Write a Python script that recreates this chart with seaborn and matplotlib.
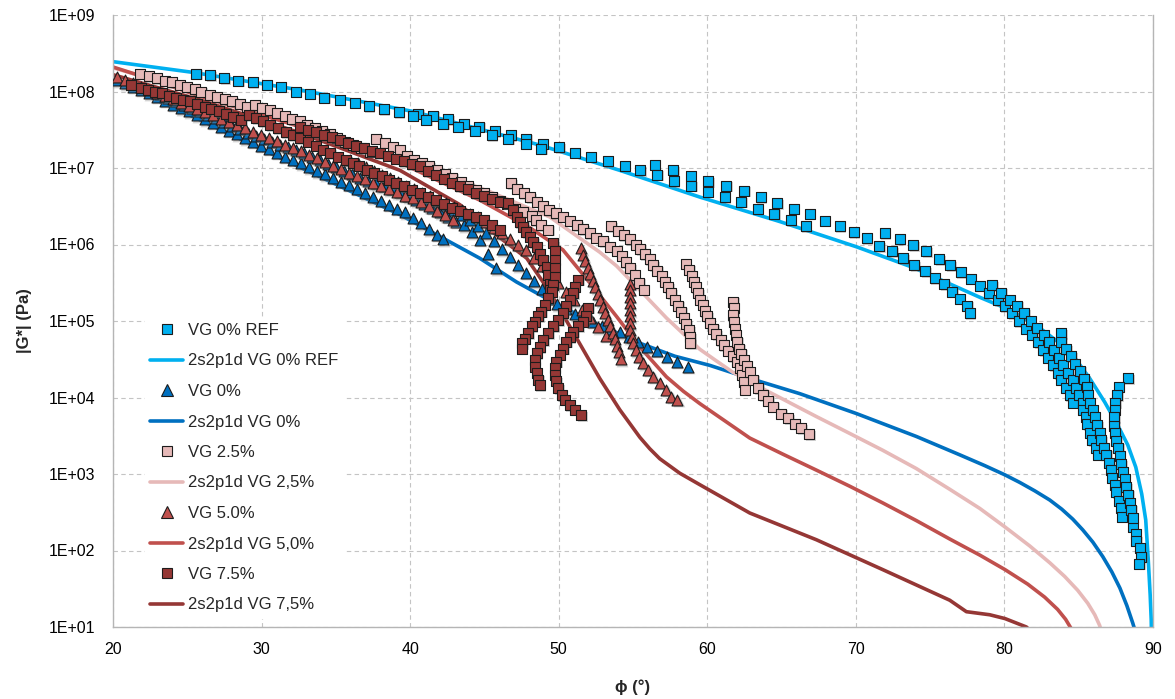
import numpy as np
import matplotlib
matplotlib.use("Agg")
import matplotlib.pyplot as plt
import matplotlib.transforms as mtransforms
import seaborn as sns
from matplotlib.lines import Line2D
from matplotlib.ticker import FixedLocator, FuncFormatter, NullLocator

# ---------------------------------------------------------------------------
# Black-space data: phase angle (deg) and log10 |G*| (Pa)
# ---------------------------------------------------------------------------
ref_phi = [25.60, 26.54, 27.48, 28.43, 29.40, 30.34, 31.28, 32.29, 33.25, 34.21, 35.25, 36.26, 37.22, 38.23,
           39.22, 40.54, 41.55, 42.56, 43.61, 44.64, 45.70, 46.78, 47.83, 48.91, 50.03, 51.08, 52.14, 53.30,
           54.43, 55.50,
           40.18, 41.10, 42.22, 43.23, 44.35, 45.48, 46.59, 47.79, 48.84,
           56.45, 57.70, 58.89, 60.08, 61.27, 62.48, 63.60, 64.72, 65.82, 66.90, 67.91, 68.92, 69.86, 70.75,
           71.56, 72.44, 73.18, 73.92, 74.66, 75.31, 75.94, 76.50, 76.99, 77.51, 77.67,
           56.62, 57.75, 58.91, 60.03, 61.18, 62.27, 63.40, 64.50, 65.62, 66.63,
           71.94, 72.95, 73.85, 74.75, 75.60, 76.37, 77.06, 77.73, 78.34, 78.96, 79.57, 80.02, 80.54, 80.98,
           81.48, 81.88, 82.26, 82.60, 82.93, 83.27, 83.61, 83.84, 84.13, 84.39, 84.62,
           79.19, 79.80, 80.36, 80.85, 81.32, 81.77, 82.19, 82.64, 82.98, 83.34, 83.65, 83.94, 84.28, 84.62,
           84.85, 85.02, 85.29, 85.29, 85.47, 85.59, 85.74, 85.92, 86.14, 86.30,
           83.84, 83.84, 84.17, 84.51, 84.73, 85.11, 85.36, 85.56, 85.62, 85.74, 85.96, 86.08, 86.26, 86.41,
           86.53, 86.70, 86.86, 87.04, 87.20, 87.27, 87.42, 87.54, 87.71, 87.87, 87.94, 88.65, 88.84, 88.88,
           89.11, 89.22, 89.06,
           88.32, 87.69, 87.58, 87.47, 87.42, 87.38, 87.38, 87.42, 87.54, 87.65, 87.76, 87.87, 87.98, 88.10,
           88.21, 88.32, 88.43, 88.55, 88.65]
ref_lg = [8.23, 8.21, 8.17, 8.14, 8.12, 8.09, 8.06, 8.00, 7.97, 7.92, 7.89, 7.85, 7.81, 7.77,
          7.73, 7.71, 7.68, 7.64, 7.58, 7.54, 7.48, 7.43, 7.38, 7.32, 7.27, 7.20, 7.15, 7.09,
          7.03, 6.97,
          7.68, 7.63, 7.58, 7.54, 7.49, 7.43, 7.38, 7.32, 7.25,
          7.04, 6.97, 6.90, 6.83, 6.77, 6.70, 6.62, 6.54, 6.47, 6.40, 6.31, 6.24, 6.16, 6.08,
          5.98, 5.91, 5.82, 5.73, 5.65, 5.56, 5.48, 5.38, 5.29, 5.20, 5.10,
          6.91, 6.83, 6.77, 6.69, 6.62, 6.56, 6.47, 6.40, 6.32, 6.24,
          6.15, 6.07, 5.99, 5.91, 5.81, 5.73, 5.64, 5.55, 5.46, 5.36, 5.27, 5.19, 5.10, 5.00,
          4.90, 4.82, 4.72, 4.62, 4.52, 4.42, 4.32, 4.23, 4.13, 4.03, 3.93,
          5.47, 5.37, 5.28, 5.20, 5.10, 5.00, 4.91, 4.82, 4.72, 4.62, 4.52, 4.42, 4.32, 4.23,
          4.13, 4.03, 3.93, 3.84, 3.75, 3.65, 3.54, 3.44, 3.34, 3.25,
          4.84, 4.73, 4.63, 4.54, 4.44, 4.35, 4.24, 4.14, 4.03, 3.93, 3.84, 3.75, 3.64, 3.54,
          3.44, 3.34, 3.25, 3.15, 3.05, 2.95, 2.86, 2.76, 2.65, 2.55, 2.44, 2.31, 2.22, 2.13,
          2.03, 1.92, 1.83,
          4.25, 4.14, 4.03, 3.93, 3.84, 3.74, 3.63, 3.53, 3.43, 3.34, 3.23, 3.13, 3.03, 2.93,
          2.83, 2.73, 2.62, 2.53, 2.42]

vg0_phi = [20.26, 20.80, 21.34, 21.88, 22.42, 22.95, 23.49, 24.03, 24.57, 25.11, 25.65, 26.18, 26.72, 27.26,
           27.80, 28.34, 28.88, 29.41, 29.95, 30.49, 31.03, 31.57, 32.11, 32.64, 33.18, 33.72, 34.26, 34.80,
           35.34, 35.87, 36.41, 36.95, 37.49, 38.03, 38.57, 39.10, 39.64, 40.18, 40.72, 41.26, 41.80, 42.20,
           23.16, 23.69, 24.23, 24.77, 25.31, 25.85, 26.38, 26.92, 27.46, 28.00, 28.54, 29.08, 29.62, 30.15,
           30.69, 31.23, 31.77, 32.31, 32.85, 33.39, 33.92, 34.46, 35.00, 35.54, 36.08, 36.62, 37.15, 37.69,
           38.23, 38.77, 39.31, 39.85, 40.38, 40.92, 41.46, 42.00, 42.54, 43.08, 43.61, 44.15, 44.69, 45.23,
           45.77,
           41.33, 41.87, 42.41, 42.95, 43.49, 44.02, 44.56, 45.10, 45.64, 46.18, 46.71, 47.25, 47.79, 48.33,
           48.87,
           49.27, 49.88, 50.48, 51.09, 51.69, 52.30, 52.90, 53.51, 54.11, 54.72, 55.33, 55.93, 56.61, 57.28,
           57.95, 58.70]
vg0_lg = [8.15, 8.11, 8.06, 8.02, 7.98, 7.93, 7.88, 7.83, 7.78, 7.74, 7.69, 7.64, 7.59, 7.54,
          7.49, 7.44, 7.39, 7.34, 7.29, 7.25, 7.20, 7.15, 7.11, 7.06, 7.01, 6.96, 6.92, 6.87,
          6.82, 6.78, 6.73, 6.67, 6.62, 6.57, 6.52, 6.47, 6.42, 6.35, 6.28, 6.20, 6.13, 6.07,
          7.97, 7.92, 7.88, 7.83, 7.78, 7.74, 7.69, 7.65, 7.60, 7.55, 7.51, 7.46, 7.42, 7.38,
          7.34, 7.30, 7.27, 7.23, 7.19, 7.14, 7.10, 7.05, 7.01, 6.96, 6.92, 6.87, 6.83, 6.80,
          6.77, 6.73, 6.68, 6.63, 6.58, 6.53, 6.48, 6.42, 6.36, 6.30, 6.25, 6.16, 6.06, 5.88,
          5.69,
          6.62, 6.57, 6.51, 6.45, 6.39, 6.32, 6.24, 6.15, 6.05, 5.94, 5.84, 5.73, 5.63, 5.52,
          5.42,
          5.29, 5.22, 5.16, 5.09, 5.04, 4.99, 4.94, 4.90, 4.85, 4.79, 4.73, 4.66, 4.61, 4.53,
          4.47, 4.40]

vg25_phi = [21.79, 22.42, 22.95, 23.47, 23.96, 24.48, 24.97, 25.49, 25.94, 26.50, 26.99, 27.51, 28.02, 28.52,
            29.03, 29.53, 30.02, 30.54, 31.03, 31.55, 32.06, 32.56, 33.07, 33.57, 34.08, 34.58, 35.07, 35.63,
            36.14, 36.70, 37.27,
            37.71, 38.28, 38.84, 39.29, 39.76, 40.25, 40.77, 41.28, 41.78, 42.34, 42.85, 43.39, 43.90, 44.42,
            44.96, 45.48, 46.04, 46.53, 47.05, 47.60, 48.17, 48.46, 48.80, 49.29,
            46.82, 47.20, 47.65, 48.10, 48.51, 48.91, 49.35, 49.80, 50.26, 50.75, 51.24, 51.64, 52.09, 52.54,
            52.99, 53.44, 53.89, 54.23, 54.52, 54.83, 55.12, 55.41, 55.73,
            53.55, 54.00, 54.38, 54.78, 55.19, 55.50, 55.79, 56.13, 56.35, 56.62, 56.92, 57.14, 57.36, 57.59,
            57.81, 58.03, 58.26, 58.42, 58.60, 58.78, 58.87, 58.87,
            58.55, 58.78, 58.94, 59.09, 59.23, 59.38, 59.50, 59.68, 59.83, 59.99, 60.17, 60.39, 60.62, 60.89,
            61.11, 61.40, 61.70, 61.97, 62.19, 62.36, 62.46, 62.52,
            61.74, 61.78, 61.74, 61.78, 61.85, 61.92, 62.01, 62.14, 62.30, 62.46, 62.64, 62.86, 63.08, 63.42,
            63.75, 64.09, 64.43, 64.99, 65.44, 65.89, 66.34, 66.85]
vg25_lg = [8.23, 8.20, 8.17, 8.14, 8.12, 8.09, 8.06, 8.03, 8.00, 7.96, 7.93, 7.90, 7.87, 7.84,
           7.80, 7.82, 7.79, 7.76, 7.72, 7.68, 7.64, 7.61, 7.56, 7.52, 7.48, 7.44, 7.39, 7.34,
           7.30, 7.26, 7.21,
           7.38, 7.33, 7.28, 7.24, 7.16, 7.11, 7.06, 7.02, 6.97, 6.92, 6.87, 6.82, 6.76, 6.71,
           6.67, 6.62, 6.57, 6.53, 6.47, 6.42, 6.37, 6.32, 6.25, 6.19,
           6.80, 6.73, 6.67, 6.62, 6.56, 6.50, 6.45, 6.41, 6.36, 6.31, 6.25, 6.20, 6.15, 6.09,
           6.04, 5.97, 5.92, 5.85, 5.77, 5.69, 5.60, 5.50, 5.41,
           6.24, 6.18, 6.12, 6.07, 6.00, 5.94, 5.87, 5.81, 5.73, 5.66, 5.59, 5.51, 5.44, 5.36,
           5.28, 5.20, 5.12, 5.04, 4.96, 4.88, 4.79, 4.71,
           5.75, 5.67, 5.59, 5.51, 5.44, 5.36, 5.28, 5.21, 5.13, 5.06, 4.98, 4.90, 4.83, 4.75,
           4.68, 4.61, 4.54, 4.47, 4.39, 4.29, 4.20, 4.10,
           5.25, 5.17, 5.08, 4.99, 4.90, 4.82, 4.73, 4.64, 4.57, 4.49, 4.41, 4.33, 4.23, 4.12,
           4.03, 3.96, 3.88, 3.79, 3.73, 3.66, 3.60, 3.52]

vg50_phi = [20.26, 20.80, 21.34, 21.88, 22.42, 22.95, 23.49, 24.03, 24.57, 25.11, 25.65, 26.18, 26.72, 27.26,
            27.80, 28.34, 28.88, 29.41, 29.95, 30.49, 31.03, 31.57, 32.11, 32.64, 33.18, 33.72, 34.26, 34.80,
            35.34, 35.87, 36.41, 36.95, 37.49, 38.03, 38.57, 39.10, 39.64, 40.18, 40.72, 41.26, 41.80, 42.34,
            42.87,
            35.94, 36.48, 37.02, 37.56, 38.10, 38.63, 39.17, 39.71, 40.25, 40.79, 41.33, 41.87, 42.41, 42.95,
            43.49, 44.02, 44.56, 45.10, 45.64, 46.18, 46.71, 47.25, 47.79, 48.33, 48.87, 49.40, 49.94, 50.48,
            51.02, 51.56, 52.09, 52.63, 53.17,
            51.53, 51.66, 51.79, 51.96, 52.13, 52.29, 52.46, 52.63, 52.80, 52.97, 53.13, 53.30, 53.47, 53.64,
            53.77, 53.91, 54.04, 54.18,
            54.79, 54.79, 54.79, 54.79, 54.79, 54.79, 54.79, 54.83, 54.90, 55.01, 55.19, 55.41, 55.68, 56.02,
            56.35, 56.80, 57.25, 57.59, 57.97]
vg50_lg = [8.19, 8.15, 8.11, 8.06, 8.02, 7.98, 7.94, 7.90, 7.85, 7.81, 7.77, 7.73, 7.69, 7.64,
           7.60, 7.56, 7.52, 7.47, 7.43, 7.39, 7.35, 7.30, 7.26, 7.22, 7.17, 7.13, 7.08, 7.03,
           6.99, 6.94, 6.90, 6.85, 6.80, 6.76, 6.72, 6.68, 6.64, 6.61, 6.56, 6.50, 6.44, 6.38,
           6.32,
           7.10, 7.06, 7.01, 6.96, 6.91, 6.87, 6.82, 6.77, 6.72, 6.67, 6.63, 6.58, 6.54, 6.49,
           6.45, 6.40, 6.36, 6.29, 6.22, 6.15, 6.07, 6.00, 5.93, 5.83, 5.72, 5.61, 5.50, 5.38,
           5.27, 5.15, 5.04, 4.92, 4.81,
           5.95, 5.86, 5.78, 5.69, 5.61, 5.52, 5.44, 5.35, 5.27, 5.18, 5.10, 5.01, 4.93, 4.84,
           4.76, 4.67, 4.59, 4.50,
           5.49, 5.41, 5.32, 5.23, 5.14, 5.06, 4.97, 4.88, 4.79, 4.71, 4.62, 4.53, 4.45, 4.36,
           4.27, 4.19, 4.10, 4.01, 3.97]

vg75_phi = [21.22, 21.90, 22.35, 22.80, 23.31, 23.76, 24.25, 24.70, 25.20, 25.65, 26.16, 26.61, 27.13, 27.62,
            28.07, 28.63, 29.15, 29.64, 30.09, 30.58, 31.10, 31.62, 32.11, 32.62, 33.12, 33.63, 34.13, 34.62,
            35.13, 35.65, 36.14, 36.59, 37.09, 37.60, 38.12, 38.61, 39.06, 39.62, 40.11, 40.65, 41.19, 41.73,
            42.27, 42.81, 43.35, 43.89, 44.42, 44.96, 45.50, 46.04,
            32.58, 33.12, 33.66, 34.19, 34.73, 35.27, 35.81, 36.35, 36.89, 37.42, 37.96, 38.50, 39.04, 39.58,
            40.11, 40.65, 41.19, 41.73, 42.27, 42.81, 43.35, 43.89, 44.42, 44.96, 45.50, 46.04, 46.57, 46.91,
            47.16, 47.38, 47.60, 47.83, 48.05, 48.28, 48.51, 48.73, 48.95, 49.18, 49.29, 49.40, 49.40,
            49.62, 49.74, 49.74, 49.74, 49.74, 49.62, 49.52, 49.29, 49.06, 48.84, 48.61, 48.39, 48.17, 47.94,
            47.72, 47.56, 47.50,
            51.31, 51.08, 50.97, 50.75, 50.52, 50.30, 49.96, 49.62, 49.29, 48.95, 48.73, 48.51, 48.39, 48.39,
            48.51, 48.61, 48.73,
            51.98, 51.87, 51.64, 51.31, 50.97, 50.75, 50.52, 50.30, 50.07, 49.85, 49.74, 49.74, 49.85, 49.96,
            50.19, 50.41, 50.75, 51.08, 51.53]
vg75_lg = [8.08, 8.04, 8.02, 8.00, 7.98, 7.94, 7.91, 7.89, 7.87, 7.84, 7.80, 7.77, 7.74, 7.71,
           7.67, 7.63, 7.69, 7.65, 7.61, 7.56, 7.52, 7.47, 7.43, 7.39, 7.34, 7.29, 7.24, 7.19,
           7.15, 7.10, 7.06, 7.02, 6.97, 6.93, 6.89, 6.84, 6.80, 6.76, 6.71, 6.67, 6.62, 6.58,
           6.53, 6.48, 6.44, 6.40, 6.36, 6.32, 6.25, 6.19,
           7.54, 7.50, 7.47, 7.43, 7.40, 7.36, 7.33, 7.29, 7.26, 7.22, 7.19, 7.16, 7.12, 7.09,
           7.05, 7.02, 6.96, 6.91, 6.86, 6.81, 6.76, 6.72, 6.67, 6.63, 6.59, 6.56, 6.54, 6.45,
           6.36, 6.29, 6.23, 6.16, 6.10, 6.03, 5.97, 5.88, 5.80, 5.71, 5.60, 5.49, 5.41,
           6.02, 5.91, 5.80, 5.69, 5.58, 5.47, 5.38, 5.30, 5.21, 5.12, 5.06, 4.99, 4.93, 4.84,
           4.77, 4.71, 4.64,
           5.54, 5.45, 5.36, 5.27, 5.19, 5.10, 5.01, 4.93, 4.84, 4.75, 4.66, 4.58, 4.49, 4.40,
           4.32, 4.23, 4.16,
           5.17, 5.06, 4.99, 4.93, 4.86, 4.79, 4.73, 4.64, 4.56, 4.47, 4.38, 4.29, 4.21, 4.12,
           4.03, 3.97, 3.90, 3.84, 3.77]

# 2S2P1D model curves
fit_ref_phi = [20.00, 25.38, 32.58, 40.18, 48.73, 54.10, 59.50, 64.88, 70.04, 73.85, 78.34, 79.69, 81.03,
               82.37, 83.72, 84.73, 85.74, 86.75, 87.62, 88.30, 88.84, 89.24, 89.51, 89.68, 89.81, 89.88, 89.91]
fit_ref_lg = [8.39, 8.25, 8.02, 7.74, 7.30, 6.97, 6.62, 6.30, 5.97, 5.70, 5.31, 5.20, 5.07,
              4.91, 4.71, 4.52, 4.25, 3.94, 3.64, 3.38, 3.09, 2.74, 2.40, 1.88, 1.42, 1.09, 0.76]
fit_vg0_phi = [20.00, 25.85, 32.58, 39.31, 44.69, 47.16, 48.95, 50.52, 52.09, 53.77, 55.46, 57.81, 60.17,
               62.86, 66.23, 70.04, 74.08, 77.00, 78.67, 80.02, 81.03, 82.04, 83.05, 83.86, 84.60, 85.27,
               85.95, 86.62, 87.23, 87.77, 88.24, 88.64, 88.98]
fit_vg0_lg = [8.15, 7.63, 7.01, 6.39, 5.82, 5.51, 5.32, 5.16, 5.00, 4.86, 4.71, 4.54, 4.42,
              4.25, 4.05, 3.79, 3.49, 3.25, 3.11, 2.99, 2.89, 2.78, 2.66, 2.54, 2.41, 2.27,
              2.11, 1.92, 1.72, 1.51, 1.28, 1.05, 0.83]
fit_vg25_phi = [20.00, 25.85, 32.58, 39.31, 45.36, 49.40, 52.76, 53.89, 54.99, 57.25, 59.50, 60.60, 61.72,
                63.98, 67.35, 69.59, 71.81, 74.08, 76.32, 78.34, 80.02, 81.70, 83.05, 84.06, 84.93, 85.61,
                86.08, 86.41, 86.68]
fit_vg25_lg = [8.31, 7.98, 7.58, 7.13, 6.69, 6.36, 5.90, 5.72, 5.50, 5.04, 4.63, 4.48, 4.33,
               4.09, 3.75, 3.53, 3.31, 3.07, 2.80, 2.55, 2.31, 2.06, 1.84, 1.66, 1.48, 1.31,
               1.16, 1.02, 0.83]
fit_vg50_phi = [20.00, 21.61, 25.85, 32.58, 39.31, 44.69, 48.05, 50.28, 52.09, 53.89, 55.46, 57.25, 58.40,
                59.50, 62.86, 65.08, 67.35, 69.59, 71.83, 74.08, 76.32, 78.34, 80.04, 81.57, 82.71, 83.58,
                84.12, 84.46, 84.79]
fit_vg50_lg = [8.32, 8.22, 7.94, 7.54, 7.07, 6.58, 6.22, 5.93, 5.50, 5.06, 4.66, 4.27, 4.08,
               3.92, 3.47, 3.26, 3.05, 2.84, 2.62, 2.39, 2.15, 1.94, 1.75, 1.56, 1.39, 1.23,
               1.10, 0.99, 0.83]
fit_vg75_phi = [20.00, 25.85, 32.58, 39.31, 43.35, 45.36, 47.85, 49.40, 51.10, 52.76, 54.11, 55.46, 56.13,
                56.80, 58.15, 59.50, 62.86, 67.35, 71.81, 76.32, 77.44, 79.01, 80.04, 81.48, 82.37]
fit_vg75_lg = [8.22, 7.89, 7.46, 6.97, 6.52, 6.19, 5.82, 5.38, 4.81, 4.25, 3.84, 3.48, 3.33,
               3.20, 3.01, 2.86, 2.49, 2.14, 1.75, 1.35, 1.20, 1.16, 1.11, 1.00, 0.83]

y_ticks = [1e1, 1e2, 1e3, 1e4, 1e5, 1e6, 1e7, 1e8, 1e9]
x_ticks = [20, 30, 40, 50, 60, 70, 80, 90]

# colours
C_REF = "#00b0f0"
C_VG0 = "#0070c0"
C_VG25 = "#e6b9b8"
C_VG50 = "#c0504d"
C_VG75 = "#953735"
EDGE = "#1c1c1c"

sns.set_theme(style="white")
plt.rcParams['font.family'] = ['Liberation Sans', 'DejaVu Sans']

fig = plt.figure(figsize=(11.75, 6.99), dpi=100)
ax = fig.add_axes([113 / 1175, 72 / 699, 1040 / 1175, 612 / 699])
ax.set_yscale("log")


def g(vals):
    return np.power(10.0, np.asarray(vals))


# model curves (beneath the measured points)
curves = [
    (fit_ref_phi, fit_ref_lg, C_REF),
    (fit_vg0_phi, fit_vg0_lg, C_VG0),
    (fit_vg25_phi, fit_vg25_lg, C_VG25),
    (fit_vg50_phi, fit_vg50_lg, C_VG50),
    (fit_vg75_phi, fit_vg75_lg, C_VG75),
]
for phi, lg, col in curves:
    sns.lineplot(x=phi, y=g(lg), sort=False, estimator=None, color=col, linewidth=2.6,
                 ax=ax, legend=False, zorder=2)

# measured points, each with a soft drop shadow
shadow = mtransforms.offset_copy(ax.transData, fig=fig, x=1.5, y=-1.5, units="dots")
points = [
    (ref_phi, ref_lg, C_REF, "s", 52),
    (vg0_phi, vg0_lg, C_VG0, "^", 62),
    (vg25_phi, vg25_lg, C_VG25, "s", 52),
    (vg50_phi, vg50_lg, C_VG50, "^", 62),
    (vg75_phi, vg75_lg, C_VG75, "s", 52),
]
for i, (phi, lg, col, mk, size) in enumerate(points):
    ax.scatter(phi, g(lg), marker=mk, s=size * 1.15, color="#808080", alpha=0.35,
               linewidths=0, transform=shadow, zorder=3 + 2 * i)
    sns.scatterplot(x=phi, y=g(lg), marker=mk, s=size, color=col, edgecolor=EDGE,
                    linewidth=0.8, ax=ax, legend=False, zorder=4 + 2 * i)

ax.set_xlim(20, 90)
ax.set_ylim(1e1, 1e9)
ax.xaxis.set_major_locator(FixedLocator(x_ticks))
ax.yaxis.set_major_locator(FixedLocator(y_ticks))
ax.yaxis.set_minor_locator(NullLocator())
ax.yaxis.set_major_formatter(FuncFormatter(lambda v, p: "1E+{:02d}".format(int(round(np.log10(v))))))
ax.tick_params(axis="both", length=0, labelsize=11.5, colors="#000000")
ax.tick_params(axis="y", pad=13)
ax.tick_params(axis="x", pad=11)

ax.grid(True, which="major", color="#c4c4c4", linestyle=(0, (4, 3)), linewidth=0.8)
ax.set_axisbelow(True)
for side in ["left", "bottom", "right"]:
    ax.spines[side].set_visible(True)
    ax.spines[side].set_color("#b5b5b5")
    ax.spines[side].set_linewidth(1.0)
ax.spines["top"].set_visible(False)

ax.set_xlabel("ϕ (°)", fontsize=12, fontweight="bold", labelpad=16)
ax.set_ylabel("|G*| (Pa)", fontsize=12, fontweight="bold", labelpad=12)

handles = [
    Line2D([], [], marker="s", linestyle="none", markersize=7, markerfacecolor=C_REF, markeredgecolor=EDGE, markeredgewidth=0.8),
    Line2D([], [], color=C_REF, linewidth=2.6),
    Line2D([], [], marker="^", linestyle="none", markersize=8, markerfacecolor=C_VG0, markeredgecolor=EDGE, markeredgewidth=0.8),
    Line2D([], [], color=C_VG0, linewidth=2.6),
    Line2D([], [], marker="s", linestyle="none", markersize=7, markerfacecolor=C_VG25, markeredgecolor=EDGE, markeredgewidth=0.8),
    Line2D([], [], color=C_VG25, linewidth=2.6),
    Line2D([], [], marker="^", linestyle="none", markersize=8, markerfacecolor=C_VG50, markeredgecolor=EDGE, markeredgewidth=0.8),
    Line2D([], [], color=C_VG50, linewidth=2.6),
    Line2D([], [], marker="s", linestyle="none", markersize=7, markerfacecolor=C_VG75, markeredgecolor=EDGE, markeredgewidth=0.8),
    Line2D([], [], color=C_VG75, linewidth=2.6),
]
labels = ["VG 0% REF", "2s2p1d VG 0% REF", "VG 0%", "2s2p1d VG 0%", "VG 2.5%",
          "2s2p1d VG 2,5%", "VG 5.0%", "2s2p1d VG 5,0%", "VG 7.5%", "2s2p1d VG 7,5%"]
leg = ax.legend(handles, labels, loc="upper left", bbox_to_anchor=((145 - 113) / 1040, (627 - 318) / 612),
                frameon=True, fancybox=False, framealpha=1.0, edgecolor="white", facecolor="white",
                fontsize=12, handlelength=2.0, handletextpad=0.3, labelspacing=0.93, borderpad=0.3,
                borderaxespad=0.0)
leg.set_zorder(20)

fig.savefig("out.png", dpi=100)
